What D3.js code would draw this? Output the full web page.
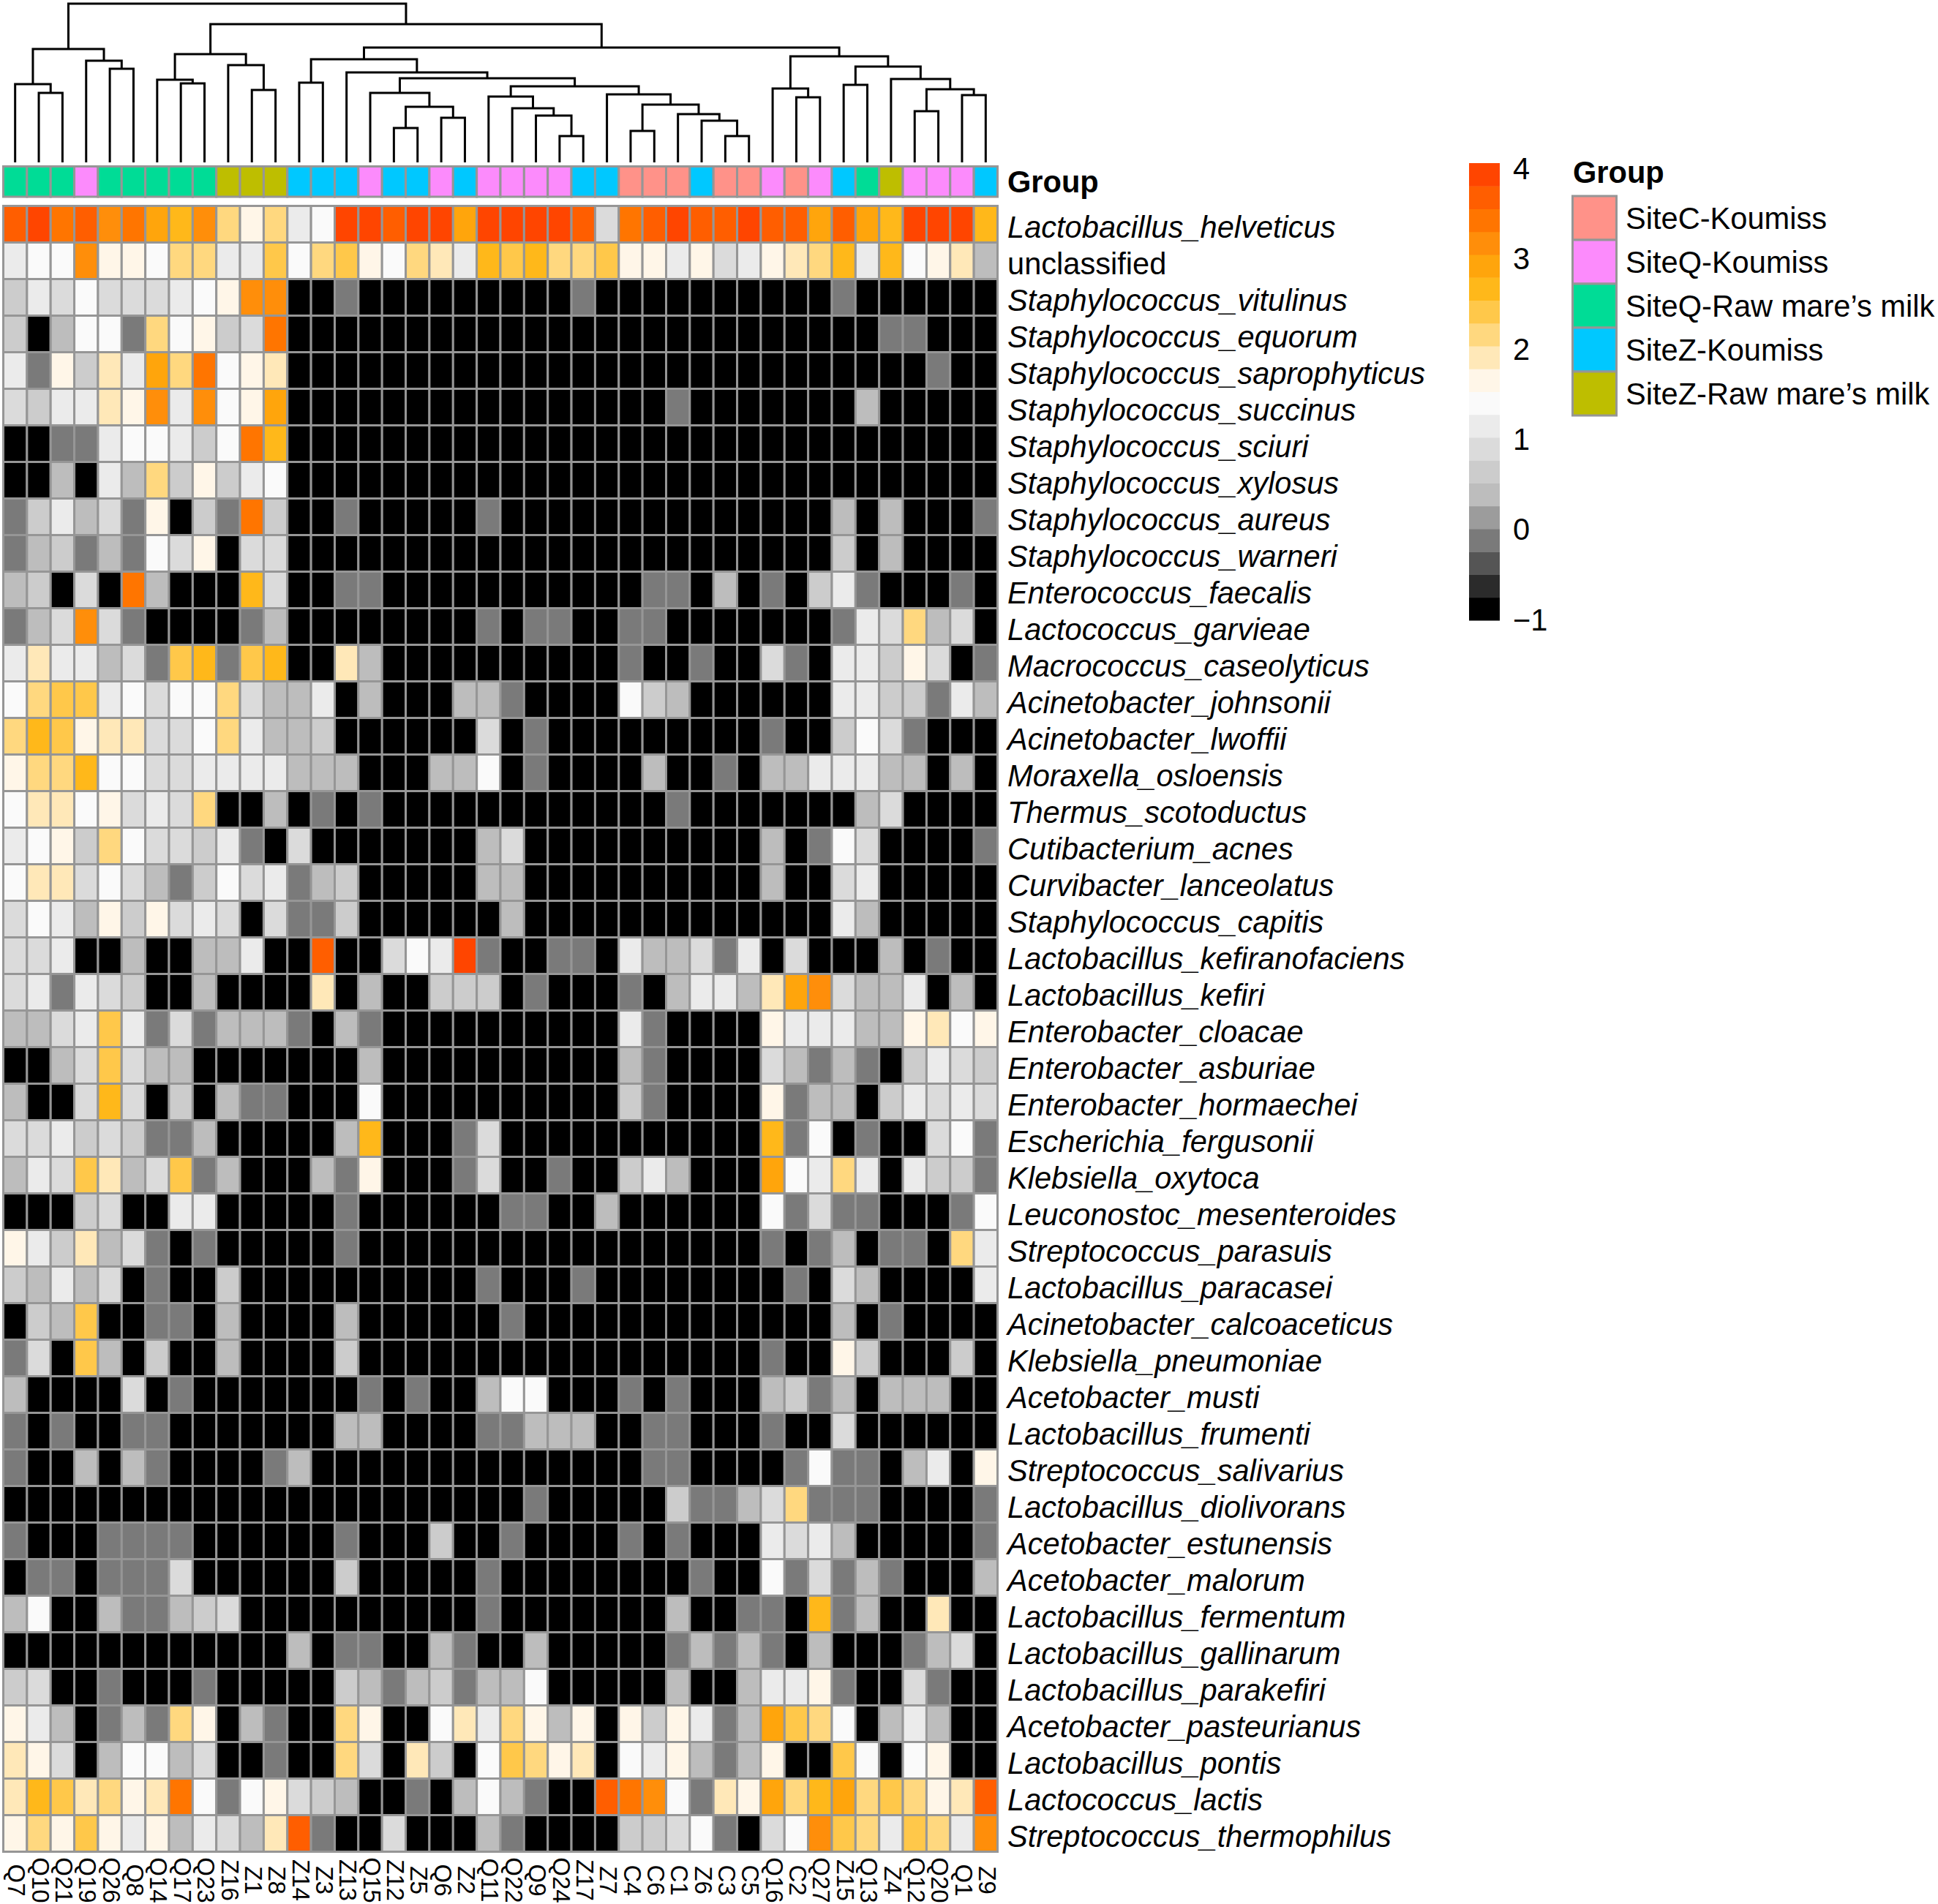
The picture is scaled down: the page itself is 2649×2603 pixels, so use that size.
<!DOCTYPE html>
<html>
<head>
<meta charset="utf-8">
<script src="https://cdn.jsdelivr.net/npm/d3@7"></script>
<style>
  html, body { margin: 0; background: #fff; }
  text { font-family: "Liberation Sans", Arial, sans-serif; fill: #000; }
</style>
</head>
<body>
<script>
const width = 2649
const height = 2603

const samples = ['Q7','Q10','Q21','Q19','Q26','Q8','Q14','Q17','Q23','Z16','Z1','Z8','Z14','Z3','Z13','Q15','Z12','Z5','Q6','Z2','Q11','Q22',
  'Q9','Q24','Z17','Z7','C4','C6','C1','Z6','C3','C5','Q16','C2','Q27','Z15','Q13','Z4','Q12','Q20','Q1','Z9']

const groupNames = ['SiteC-Koumiss', 'SiteQ-Koumiss', 'SiteQ-Raw mare’s milk', 'SiteZ-Koumiss', 'SiteZ-Raw mare’s milk']
const groupColors = ['#ff9289', '#fc8bfc', '#00dc96', '#00c8ff', '#bebe00']
// index into groupNames, one per sample
const sampleGroups = [2,2,2,1,2,2,2,2,2,4,4,4,3,3,3,1,3,3,1,3,1,1,
  1,1,3,3,0,0,0,3,0,0,1,0,1,3,2,4,1,1,1,3]

const taxa = ['Lactobacillus_helveticus','unclassified','Staphylococcus_vitulinus','Staphylococcus_equorum','Staphylococcus_saprophyticus',
  'Staphylococcus_succinus','Staphylococcus_sciuri','Staphylococcus_xylosus','Staphylococcus_aureus','Staphylococcus_warneri',
  'Enterococcus_faecalis','Lactococcus_garvieae','Macrococcus_caseolyticus','Acinetobacter_johnsonii','Acinetobacter_lwoffii',
  'Moraxella_osloensis','Thermus_scotoductus','Cutibacterium_acnes','Curvibacter_lanceolatus','Staphylococcus_capitis',
  'Lactobacillus_kefiranofaciens','Lactobacillus_kefiri','Enterobacter_cloacae','Enterobacter_asburiae','Enterobacter_hormaechei',
  'Escherichia_fergusonii','Klebsiella_oxytoca','Leuconostoc_mesenteroides','Streptococcus_parasuis','Lactobacillus_paracasei',
  'Acinetobacter_calcoaceticus','Klebsiella_pneumoniae','Acetobacter_musti','Lactobacillus_frumenti','Streptococcus_salivarius',
  'Lactobacillus_diolivorans','Acetobacter_estunensis','Acetobacter_malorum','Lactobacillus_fermentum','Lactobacillus_gallinarum',
  'Lactobacillus_parakefiri','Acetobacter_pasteurianus','Lactobacillus_pontis','Lactococcus_lactis','Streptococcus_thermophilus']

// one list per row, in the order of taxa
const helveticus = [3.6,3.9,3.4,3.6,3.1,3.4,2.9,2.6,3.1,2.1,1.6,2.1,1.1,1.4,3.9,3.9,3.6,3.9,3.9,2.9,3.9,3.9,
  3.9,3.9,3.6,.9,3.4,3.6,3.9,3.6,3.6,3.9,3.6,3.6,2.9,3.6,2.9,2.6,3.9,3.9,3.9,2.6]
const unclassified = [1.1,1.4,1.4,3.1,1.6,1.6,1.4,2.1,2.1,1.1,1.1,2.4,1.4,2.1,2.4,1.6,1.4,2.1,1.9,1.1,2.6,2.4,
  2.6,2.1,2.1,2.4,1.6,1.6,1.1,1.6,.9,1.1,1.6,1.9,2.1,2.6,1.1,2.6,1.4,1.6,1.9,.4]
const vitulinus = [.6,1.1,.9,1.4,.9,.9,.9,1.1,1.4,1.6,3.1,3.1,-1,-1,-.1,-1,-1,-1,-1,-1,-1,-1,
  -1,-1,-.1,-1,-1,-1,-1,-1,-1,-1,-1,-1,-1,-.1,-1,-1,-1,-1,-1,-1]
const equorum = [.6,-1,.4,1.4,1.4,-.1,2.1,1.4,1.6,.6,.9,3.4,-1,-1,-1,-1,-1,-1,-1,-1,-1,-1,
  -1,-1,-1,-1,-1,-1,-1,-1,-1,-1,-1,-1,-1,-1,-1,-.1,-.1,-1,-1,-1]
const saprophyticus = [1.1,-.1,1.6,.6,1.9,1.1,2.9,2.1,3.4,1.4,1.6,1.9,-1,-1,-1,-1,-1,-1,-1,-1,-1,-1,
  -1,-1,-1,-1,-1,-1,-1,-1,-1,-1,-1,-1,-1,-1,-1,-1,-1,-.1,-1,-1]
const succinus = [.9,.6,1.1,1.1,1.9,1.6,3.1,1.1,3.1,1.4,1.6,2.9,-1,-1,-1,-1,-1,-1,-1,-1,-1,-1,
  -1,-1,-1,-1,-1,-1,-.1,-1,-1,-1,-1,-1,-1,-1,.4,-1,-1,-1,-1,-1]
const sciuri = [-1,-1,-.1,-.1,1.1,1.4,1.4,1.1,.6,1.4,3.4,2.6,-1,-1,-1,-1,-1,-1,-1,-1,-1,-1,
  -1,-1,-1,-1,-1,-1,-1,-1,-1,-1,-1,-1,-1,-1,-1,-1,-1,-1,-1,-1]
const xylosus = [-1,-1,.4,-1,1.1,.4,2.1,.6,1.6,.6,1.1,1.4,-1,-1,-1,-1,-1,-1,-1,-1,-1,-1,
  -1,-1,-1,-1,-1,-1,-1,-1,-1,-1,-1,-1,-1,-1,-1,-1,-1,-1,-1,-1]
const aureus = [-.1,.6,1.1,.4,.9,-.1,1.6,-1,.6,-.1,3.4,.6,-1,-1,-.1,-1,-1,-1,-1,-1,-.1,-1,
  -1,-1,-1,-1,-1,-1,-1,-1,-1,-1,-1,-1,-1,.4,-1,.4,-1,-1,-1,-.1]
const warneri = [-.1,.4,.6,-.1,.4,-.1,1.4,.9,1.6,-1,.9,.9,-1,-1,-1,-1,-1,-1,-1,-1,-1,-1,
  -1,-1,-1,-1,-1,-1,-1,-1,-1,-1,-1,-1,-1,.6,-1,.4,-1,-1,-1,-1]
const faecalis = [.4,.6,-1,.9,-1,3.4,.4,-1,-1,-1,2.6,.9,-1,-1,-.1,-.1,-1,-1,-1,-1,-1,-1,
  -1,-1,-1,-1,-1,-.1,-.1,-1,.4,-1,-.1,-1,.6,1.1,-.1,-1,-1,-1,-.1,-1]
const garvieae = [-.1,.4,.9,3.1,.9,-.1,-1,-1,-1,-1,-.1,.4,-1,-1,-1,-1,-1,-1,-1,-1,-.1,-1,
  -.1,-.1,-1,-1,-.1,-.1,-1,-1,-1,-1,-1,-1,-1,-.1,1.1,.9,2.1,.4,.9,-1]
const caseolyticus = [1.1,1.9,1.1,1.1,.4,.9,-.1,2.4,2.6,-.1,2.4,2.6,-1,-1,1.9,.4,-1,-1,-1,-1,-1,-1,
  -1,-1,-1,-1,-.1,-1,-1,-.1,-1,-1,.9,-.1,-1,1.1,1.1,.6,1.6,.9,-1,-.1]
const johnsonii = [1.4,2.1,2.4,2.4,1.1,1.4,.9,1.4,1.4,2.1,.9,.4,.4,1.1,-1,.4,-1,-1,-1,.4,.4,-.1,
  -1,-1,-1,-1,1.4,.6,.4,-1,-1,-1,-1,-1,-1,1.1,1.1,.6,.6,-.1,1.1,.4]
const lwoffii = [2.1,2.6,2.4,1.6,1.9,1.9,.9,.9,1.4,2.1,1.1,.4,.4,.6,-1,-1,-1,-1,-1,-1,.9,-1,
  -.1,-1,-1,-1,-1,-1,-1,-1,-1,-1,-.1,-1,-1,.6,1.4,.9,-.1,-1,-1,-1]
const osloensis = [1.6,2.1,2.1,2.6,1.4,1.4,.9,.9,1.1,1.1,1.1,1.1,.4,.4,.4,-1,-1,-1,.4,.4,1.4,-1,
  -.1,-1,-1,-1,-1,.4,-1,-1,-.1,-1,.4,.4,1.1,1.1,1.1,.4,.4,-1,.4,-1]
const scotoductus = [1.4,1.9,1.9,1.4,1.6,.9,1.1,.9,2.1,-1,-1,.4,-1,-.1,-1,-.1,-1,-1,-1,-1,-1,-1,
  -1,-1,-1,-1,-1,-1,-.1,-1,-1,-1,-1,-1,-1,-1,.4,.9,-1,-1,-1,-1]
const acnes = [1.1,1.4,1.6,.6,2.1,1.4,.9,.9,.6,1.1,-.1,-1,.9,-1,-1,-1,-1,-1,-1,-1,.4,.9,
  -1,-1,-1,-1,-1,-1,-1,-1,-1,-1,.4,-1,-.1,1.4,.9,-1,-1,-1,-1,-.1]
const lanceolatus = [1.4,1.9,1.9,.9,1.4,.9,.4,-.1,.6,1.4,.9,1.1,-.1,.4,.6,-1,-1,-1,-1,-1,.4,.4,
  -1,-1,-1,-1,-1,-1,-1,-1,-1,-1,.4,-1,-1,.9,1.1,-1,-1,-1,-1,-1]
const capitis = [.9,1.4,1.1,.4,1.6,.6,1.6,.9,1.1,.9,-1,.9,-.1,-.1,.6,-1,-1,-1,-1,-1,-1,.4,
  -1,-1,-1,-1,-1,-1,-1,-1,-1,-1,-1,-1,-1,1.1,.4,-1,-1,-1,-1,-1]
const kefiranofaciens = [.9,.9,1.1,-1,-1,.4,-1,-1,.4,.4,1.1,-1,-1,3.6,-1,-1,.9,1.4,1.1,3.9,-.1,-1,
  -1,-.1,-.1,-1,1.1,.4,.4,.9,-.1,1.1,-1,.9,-1,-1,-1,.4,-1,-.1,-1,-1]
const kefiri = [.9,1.1,-.1,1.1,.9,.6,-1,-1,.4,-1,-1,-1,-1,1.9,-1,.4,-1,-1,.6,.6,.6,-1,
  -.1,-1,-1,-1,-.1,-1,.4,1.1,1.1,.4,1.9,2.9,3.1,.9,.4,.4,1.1,-1,.4,-1]
const cloacae = [.4,.4,.9,1.1,2.4,1.1,-.1,.9,-.1,.4,.4,.4,-.1,-1,.4,-.1,-1,-1,-1,-1,-1,-1,
  -1,-1,-1,-1,1.1,-.1,-1,-1,-1,-1,1.6,1.1,1.1,1.1,.4,.4,1.6,1.9,1.4,1.6]
const asburiae = [-1,-1,.4,.9,2.4,.9,.4,.4,-1,-1,-1,-1,-1,-1,-1,.4,-1,-1,-1,-1,-1,-1,
  -1,-1,-1,-1,.4,-.1,-1,-1,-1,-1,.9,.4,-.1,.4,-.1,-1,.6,1.1,.9,.6]
const hormaechei = [.4,-1,-1,.9,2.6,.9,-1,.6,-1,.4,-.1,-.1,-1,-1,-1,1.4,-1,-1,-1,-1,-1,-1,
  -1,-1,-1,-1,.6,-.1,-1,-1,-1,-1,1.6,-.1,.4,.4,-1,.6,1.1,.9,1.1,.9]
const fergusonii = [.9,.9,1.1,.6,.9,.6,-.1,-.1,.4,-1,-1,-1,-1,-1,.4,2.6,-1,-1,-1,-.1,.9,-1,
  -1,-1,-1,-1,-1,-1,-1,-1,-1,-1,2.6,-.1,1.4,-1,-.1,-1,-1,.9,1.4,-.1]
const oxytoca = [.4,1.1,.9,2.4,1.9,.4,.9,2.4,-.1,.4,-1,-1,-1,.4,-.1,1.6,-1,-1,-1,-.1,.9,-1,
  -1,-.1,-1,-1,.6,1.1,.4,-1,-1,-1,2.9,1.4,1.1,2.1,1.1,-1,1.1,.6,.6,-.1]
const mesenteroides = [-1,-1,-1,.6,.9,-1,-1,1.1,1.1,-1,-1,-1,-1,-1,-.1,-1,-1,-1,-1,-1,-1,-.1,
  -.1,-1,-1,.4,-1,-1,-1,-1,-1,-1,1.4,-.1,.9,-.1,-.1,-1,-1,-1,-.1,1.4]
const parasuis = [1.6,1.1,.6,1.9,.4,.9,-.1,-1,-.1,-1,-1,-1,-1,-1,-.1,-1,-1,-1,-1,-1,-1,-1,
  -1,-1,-1,-1,-1,-1,-1,-1,-1,-1,-.1,-1,-.1,.4,-1,-.1,-.1,-1,2.1,1.1]
const paracasei = [.6,.4,1.1,.4,.9,-1,-.1,-1,-1,.6,-1,-1,-1,-1,-1,-1,-1,-1,-1,-1,-.1,-1,
  -1,-1,-.1,-1,-1,-1,-1,-1,-1,-1,-1,-.1,-1,.9,.4,-1,-1,-1,-1,1.1]
const calcoaceticus = [-1,.6,.4,2.4,-1,-1,-.1,-.1,-1,.4,-1,-1,-1,-1,.4,-1,-1,-1,-1,-1,-1,-.1,
  -1,-1,-1,-1,-1,-1,-1,-1,-1,-1,-1,-1,-1,.4,-1,-.1,-1,-1,-1,-1]
const pneumoniae = [-.1,.9,-1,2.4,.4,-1,.6,-1,-1,.4,-1,-1,-1,-1,.6,-1,-1,-1,-1,-1,-1,-1,
  -1,-1,-1,-1,-1,-1,-1,-1,-1,-1,-.1,-1,-1,1.6,.6,-1,-1,-1,.6,-1]
const musti = [.4,-1,-1,-1,-1,.9,-1,-.1,-1,-1,-1,-1,-1,-1,-1,-.1,-1,-.1,-1,-1,.4,1.4,
  1.4,-1,-1,-1,-.1,-1,-.1,-1,-1,-1,.4,.6,-.1,.4,-1,.4,.4,.4,-1,-1]
const frumenti = [-.1,-1,-.1,-1,-1,-.1,-.1,-1,-1,-1,-1,-1,-1,-1,.4,.4,-1,-1,-1,-1,-.1,-.1,
  .4,.4,.4,-1,-1,-.1,-.1,-1,-1,-1,-.1,-1,-1,.9,-1,-1,-1,-1,-1,-1]
const salivarius = [-.1,-1,-1,.4,-1,.4,-.1,-1,-1,-1,-1,-.1,.4,-1,-1,-1,-1,-1,-1,-1,-1,-1,
  -1,-1,-1,-1,-1,-.1,-.1,-1,-1,-1,-1,-.1,1.4,-.1,-.1,-1,.4,1.1,-1,1.6]
const diolivorans = [-1,-1,-1,-1,-1,-1,-1,-1,-1,-1,-1,-1,-1,-1,-1,-1,-1,-1,-1,-1,-1,-1,
  -.1,-1,-1,-1,-1,-1,.6,-.1,-.1,.4,.9,2.1,-.1,-.1,-.1,-1,-1,-1,-1,-.1]
const estunensis = [-.1,-1,-1,-1,-.1,-.1,-.1,-.1,-1,-1,-1,-1,-1,-1,-.1,-1,-1,-1,.6,-1,-1,-.1,
  -1,-1,-1,-1,-.1,-1,-.1,-1,-1,-1,1.1,.9,1.1,.4,-1,-1,-1,-1,-1,-.1]
const malorum = [-1,-.1,-.1,-1,-.1,-.1,-.1,.9,-1,-1,-1,-1,-1,-1,.6,-1,-1,-1,-1,-1,-.1,-1,
  -1,-1,-1,-1,-1,-1,-1,-.1,-1,-1,1.4,-.1,.9,-.1,.4,-.1,-1,-1,-1,.4]
const fermentum = [.4,1.4,-1,-1,.4,-.1,-.1,.4,.6,.9,-1,-1,-1,-1,-1,-1,-1,-1,-1,-1,-.1,-1,
  -1,-1,-1,-1,-1,-1,.4,-1,-1,-.1,-.1,-1,2.6,-.1,.4,-1,-1,1.9,-1,-1]
const gallinarum = [-1,-1,-1,-1,-1,-1,-1,-1,-1,-1,-1,-1,.4,-1,-.1,-.1,-1,-1,.4,-.1,-1,-1,
  .4,-1,-1,-1,-1,-1,-.1,.4,-.1,.4,-.1,-1,.4,-1,-1,-1,-.1,.4,.9,-1]
const parakefiri = [.6,.9,-1,-1,-.1,-1,-1,-1,-.1,-1,-1,-1,-1,-1,.6,.4,-.1,.4,.6,-.1,.4,.4,
  1.4,-1,-1,-1,-1,-1,.4,-1,-1,.4,1.1,1.1,1.6,-.1,-1,-1,.9,-.1,-1,-1]
const pasteurianus = [1.6,1.1,.4,-1,-.1,.4,-.1,2.1,1.6,-1,.4,-.1,-1,-1,2.1,1.6,-1,-1,1.4,1.9,1.1,2.1,
  1.6,.4,1.6,-1,1.6,.6,1.6,1.1,-.1,.4,2.9,2.4,2.1,1.4,-1,.4,1.1,.4,-1,-1]
const pontis = [1.9,1.6,.9,-1,.4,1.4,1.4,.4,.9,-1,-1,-.1,-1,-1,2.1,.9,-1,1.9,.6,-1,1.4,2.4,
  2.1,1.6,1.9,-1,1.4,1.1,1.6,.4,-.1,.4,1.6,-1,-1,2.4,1.4,-1,1.4,1.6,-1,-1]
const lactis = [1.9,2.6,2.4,1.9,2.1,1.6,1.9,3.4,1.4,-.1,1.4,1.6,.9,.6,.4,-1,-1,-.1,-1,.4,1.4,.4,
  -.1,-1,-1,3.6,3.4,3.1,1.4,-.1,1.9,1.6,2.9,2.1,2.6,2.9,2.1,2.4,2.1,1.6,1.9,3.6]
const thermophilus = [1.6,2.1,1.6,2.4,1.6,1.1,1.6,.4,1.1,.9,.4,1.9,3.6,-.1,-1,-1,.9,-1,-1,-1,.4,-.1,
  -1,-1,-1,-1,.6,.6,.9,1.4,-.1,-1,.9,1.4,3.1,2.4,2.1,1.1,2.4,2.1,1.1,3.1]

const rows = [helveticus, unclassified, vitulinus, equorum, saprophyticus, succinus, sciuri, xylosus, aureus, warneri,
  faecalis, garvieae, caseolyticus, johnsonii, lwoffii, osloensis, scotoductus, acnes, lanceolatus, capitis,
  kefiranofaciens, kefiri, cloacae, asburiae, hormaechei, fergusonii, oxytoca, mesenteroides, parasuis, paracasei,
  calcoaceticus, pneumoniae, musti, frumenti, salivarius, diolivorans, estunensis, malorum, fermentum, gallinarum,
  parakefiri, pasteurianus, pontis, lactis, thermophilus]

// 20 colour bands of the key, bottom to top
const palette = ['#000000','#2b2b2b','#555555','#7a7a7a','#9c9c9c','#bdbdbd','#cccccc','#dbdbdb','#ebebeb','#fafafa',
  '#fff6e8','#ffe8b8','#ffd87f','#ffc84a','#ffb81a','#ffa50c','#ff8e0a','#ff7500','#ff5e00','#ff4500']
const keyTicks = [-1, 0, 1, 2, 3, 4]

// sample tree: [merge height, left, right], a plain number is a column
const colTree = [217,
  [155,
    [107, 0, [95, 1, 2]],
    [139, 3, [128, 4, 5]]],
  [189,
    [148,
      [113, 6, [108, 7, 8]],
      [133, 9, [99, 10, 11]]],
    [157,
      [141,
        [109, 12, 13],
        [123, 14,
          [115,
            [95, 15, [76, [47, 16, 17], [61, 18, 19]]],
            [104,
              [90, 20, [74, 21, [64, 22, [36, 23, 24]]]],
              [93, 25, [79, [43, 26, 27], [66, 28, [57, 29, [36, 30, 31]]]]]]]]],
      [145,
        [101, 32, [89, 33, 34]],
        [131,
          [106, 35, 36],
          [114, 37, [100, [70, 38, 39], [92, 40, 41]]]]]]]]

const borderColor = '#969696'
const fontSize = 41.6

const svg = d3.select('body').append('svg')
  .attr('width', width)
  .attr('height', height)
  .style('display', 'block')

const x = d3.scaleBand().domain(samples).range([4.5, 1363.5])
const y = d3.scaleBand().domain(taxa).range([281.5, 2531.5])
const color = d3.scaleQuantize().domain([-1, 4.06]).range(palette)

// dendrogram
const treeY = d3.scaleLinear().domain([0, 217]).range([222, 5])
const segments = []

function layout (node) {
  if (typeof node === 'number') return { x: x(samples[node]) + x.bandwidth() / 2, y: treeY(0) }
  const a = layout(node[1])
  const b = layout(node[2])
  const top = treeY(node[0])
  segments.push(`M${a.x},${a.y}V${top}H${b.x}V${b.y}`)
  return { x: (a.x + b.x) / 2, y: top }
}
layout(colTree)

svg.append('g').selectAll('path')
  .data(segments)
  .enter()
  .append('path')
    .attr('d', d => d)
    .attr('fill', 'none')
    .attr('stroke', '#000')
    .attr('stroke-width', 3)

// group annotation strip
svg.append('g').selectAll('rect')
  .data(samples)
  .enter()
  .append('rect')
    .attr('x', d => x(d))
    .attr('y', 227.5)
    .attr('width', x.bandwidth())
    .attr('height', 41.5)
    .attr('fill', (d, i) => groupColors[sampleGroups[i]])
    .attr('stroke', borderColor)
    .attr('stroke-width', 3)

svg.append('text')
  .attr('x', 1377)
  .attr('y', 248)
  .attr('dy', '.36em')
  .attr('font-size', fontSize)
  .attr('font-weight', 'bold')
  .text('Group')

// heatmap cells
const cells = rows.flatMap((values, r) => values.map((v, c) => ({ taxon: taxa[r], sample: samples[c], v })))

svg.append('g').selectAll('rect')
  .data(cells)
  .enter()
  .append('rect')
    .attr('x', d => x(d.sample))
    .attr('y', d => y(d.taxon))
    .attr('width', x.bandwidth())
    .attr('height', y.bandwidth())
    .attr('fill', d => color(d.v))
    .attr('stroke', borderColor)
    .attr('stroke-width', 3)

// row labels
const rowAxis = svg.append('g')
  .attr('transform', 'translate(1363.5,0)')
  .call(d3.axisRight(y).tickSize(0).tickPadding(13.5))
rowAxis.select('.domain').remove()
rowAxis.attr('font-family', null).attr('font-size', fontSize)
rowAxis.selectAll('text')
  .attr('font-style', d => d === 'unclassified' ? 'normal' : 'italic')
  .attr('dy', '.44em')

// column labels
const colAxis = svg.append('g')
  .attr('transform', 'translate(0,2531.5)')
  .call(d3.axisBottom(x).tickSize(0))
colAxis.select('.domain').remove()
colAxis.attr('font-family', null).attr('font-size', 33)
colAxis.selectAll('text')
  .attr('y', 0)
  .attr('dy', '.36em')
  .attr('text-anchor', 'middle')
  .attr('transform', 'translate(2.5,39) rotate(90)')

// colour key
const keyBand = d3.scaleBand().domain(d3.range(palette.length)).range([848, 223])
const keyY = d3.scaleLinear().domain([-1, 4]).range([848, 231])

svg.append('g').selectAll('rect')
  .data(palette)
  .enter()
  .append('rect')
    .attr('x', 2008)
    .attr('y', (d, i) => keyBand(i))
    .attr('width', 42)
    .attr('height', keyBand.bandwidth() + .5)
    .attr('fill', d => d)

const keyAxis = svg.append('g')
  .attr('transform', 'translate(2050,0)')
  .call(d3.axisRight(keyY).tickValues(keyTicks).tickFormat(d3.format('d')).tickSize(0).tickPadding(18))
keyAxis.select('.domain').remove()
keyAxis.attr('font-family', null).attr('font-size', fontSize)

// group legend
svg.append('text')
  .attr('x', 2150)
  .attr('y', 235)
  .attr('dy', '.36em')
  .attr('font-size', fontSize)
  .attr('font-weight', 'bold')
  .text('Group')

const legendY = d3.scaleBand().domain(groupNames).range([268, 568])

svg.append('g').selectAll('rect')
  .data(groupNames)
  .enter()
  .append('rect')
    .attr('x', 2149.5)
    .attr('y', d => legendY(d))
    .attr('width', 60)
    .attr('height', legendY.bandwidth())
    .attr('fill', (d, i) => groupColors[i])
    .attr('stroke', borderColor)
    .attr('stroke-width', 3)

svg.append('g').selectAll('text')
  .data(groupNames)
  .enter()
  .append('text')
    .attr('x', 2222)
    .attr('y', d => legendY(d) + legendY.bandwidth() / 2)
    .attr('dy', '.36em')
    .attr('font-size', fontSize)
    .text(d => d)
</script>
</body>
</html>
